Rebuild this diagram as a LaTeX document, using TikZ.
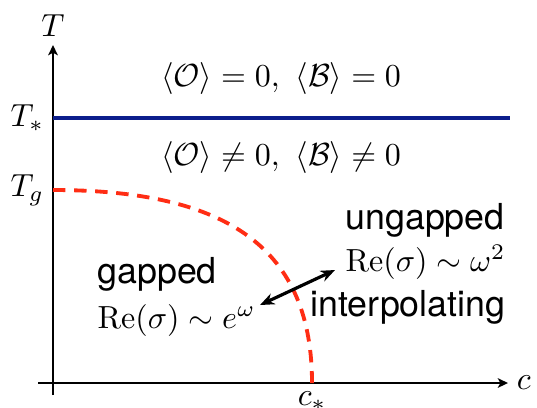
\documentclass[tikz,border=0pt]{standalone}
\usepackage{fontspec}
\usepackage{amsmath}
\usetikzlibrary{arrows.meta, positioning}
\newfontfamily\labelfont{TeX Gyre Heros}
\definecolor{critblue}{RGB}{12,30,140}
\definecolor{crossred}{RGB}{255,45,20}

\begin{document}
\begin{tikzpicture}[
    x=0.313pt, y=-0.313pt,
    axis/.style={line width=0.6pt, -{Stealth[length=3.2pt, width=3pt, inset=0.8pt]}},
    axislabel/.style={inner sep=2.6pt},
    critline/.style={critblue, line width=1pt},
    crossover/.style={crossred, line width=1.2pt, dash pattern=on 3.9pt off 2.7pt},
    flow/.style={line width=1pt, {Stealth[length=4.5pt, width=3.6pt]}-{Stealth[length=4.5pt, width=3.6pt]}},
    phase/.style={inner sep=0pt, anchor=west, font=\fontsize{11.2}{13}\labelfont},
    rate/.style={inner sep=0pt, anchor=west}
]
    \useasboundingbox (0,0) rectangle (537,407);

    % Axes
    \coordinate (ybot) at (53,395);
    \coordinate (ytop) at (53,45);
    \coordinate (xleft) at (38,383);
    \coordinate (xright) at (508,383);
    \draw[axis] (ybot) -- (ytop);
    \draw[axis] (xleft) -- (xright);
    \node[axislabel, above=0pt of ytop] (tlabel) {$T$};
    \node[axislabel, right=0pt of xright] (clabel) {$c$};

    % Critical temperature
    \coordinate (tsleft) at (53,118);
    \coordinate (tsright) at (510,118);
    \draw[critline] (tsleft) -- (tsright);
    \node[axislabel, left=0pt of tsleft] (tstar) {$T_*$};

    % Gapped / ungapped crossover
    \coordinate (tgleft) at (53,190);
    \coordinate (cstar) at (312,383);
    \draw[crossover] (tgleft) .. controls (230,190) and (312,250) .. (cstar);
    \node[axislabel, left=0pt of tgleft] (tg) {$T_g$};
    \node[axislabel, below=0pt of cstar] (cstarlabel) {$c_*$};

    % Condensates
    \node (broken0) at (281,78) {$\langle\mathcal{O}\rangle = 0,\ \langle\mathcal{B}\rangle = 0$};
    \node (broken1) at (281,157) {$\langle\mathcal{O}\rangle \neq 0,\ \langle\mathcal{B}\rangle \neq 0$};

    % Regimes
    \node[phase] (gapped) at (97,274) {gapped};
    \node[rate] (gappedrate) at (97,320) {$\mathrm{Re}(\sigma) \sim e^{\omega}$};
    \node[phase] (ungapped) at (345,220) {ungapped};
    \node[rate] (ungappedrate) at (345,262) {$\mathrm{Re}(\sigma) \sim \omega^2$};
    \node[phase] (interp) at (310,307) {interpolating};

    \coordinate (gapend) at (260,305);
    \coordinate (ungapend) at (335,270);
    \draw[flow] (gapend) -- (ungapend);

\end{tikzpicture}
\end{document}
